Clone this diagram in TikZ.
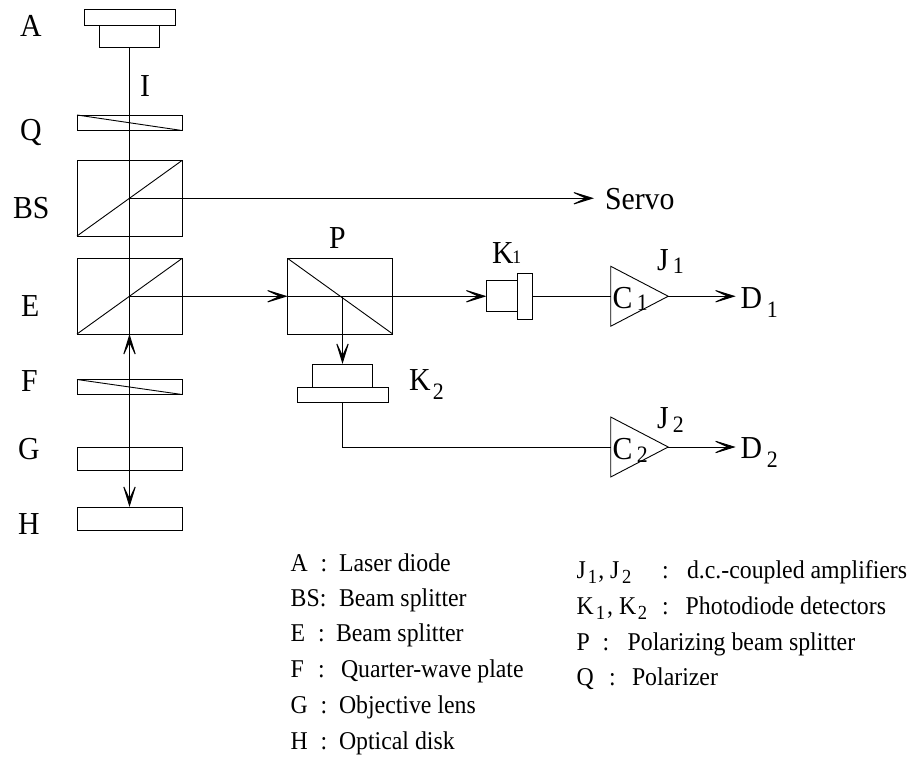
\documentclass[tikz,border=0pt]{standalone}
\usepackage{fontspec}
\setmainfont[FakeStretch=0.93]{Liberation Serif}
\usetikzlibrary{arrows.meta,shapes.geometric}
\newcommand{\lowsub}[4][23.5]{\kern#2pt\raisebox{-#3pt}{\fontsize{#1}{#1}\selectfont #4}}
\tikzset{
    optbox/.style={draw,inner sep=0pt,outer sep=0pt},
    plate/.style={optbox,minimum width=105pt,minimum height=15.5pt},
    slab/.style={optbox,minimum width=105pt,minimum height=23pt},
    cube/.style={optbox,minimum width=105pt,minimum height=75.5pt},
    widecap/.style={optbox,minimum width=91pt,minimum height=15.5pt},
    narrowcap/.style={optbox,minimum width=60.5pt,minimum height=22.5pt},
    amp/.style={draw,isosceles triangle,isosceles triangle stretches,inner sep=0pt,outer sep=0pt,
        minimum width=60pt,minimum height=57.5pt,anchor=lower side},
    lab/.style={inner sep=0pt,outer sep=0pt,anchor=base west,font=\fontsize{32}{38}\selectfont},
    legtxt/.style={inner sep=0pt,outer sep=0pt,anchor=base west,font=\fontsize{25.6}{30}\selectfont},
    ray/.style={-{Stealth[length=26pt,width=16pt,inset=17pt]}}
}
\begin{document}
\begin{tikzpicture}[x=1pt,y=-1pt,line width=0.9pt]
    \useasboundingbox (0,0) rectangle (911,758);
    % column of optics
    \node[widecap] (ldtop) at (129.5,17.25) {};
    \node[narrowcap] (ldbot) at (129.5,36.25) {};
    \node[plate] (polq) at (129.5,122.75) {};
    \node[cube] (bs) at (129.5,198.25) {};
    \node[cube] (bse) at (129.5,296.25) {};
    \node[plate,minimum height=15pt] (qwf) at (129.5,387) {};
    \node[slab] (lensg) at (129.5,458.5) {};
    \node[slab] (diskh) at (129.5,518.5) {};
    \draw (polq.north west) -- (polq.south east);
    \draw (qwf.north west) -- (qwf.south east);
    \draw (bs.south west) -- (bs.north east);
    \draw (bse.south west) -- (bse.north east);
    % polarizing splitter and detectors
    \node[cube] (pbs) at (340.25,296.25) {};
    \draw (pbs.north west) -- (pbs.south east);
    \coordinate (psplit) at (342.5,296.25);
    \node[narrowcap,minimum width=60pt,minimum height=23pt] (ktwotop) at (342.5,375.5) {};
    \node[widecap,minimum height=15pt] (ktwobot) at (342.5,394.5) {};
    \node[optbox,minimum width=30.5pt,minimum height=31pt] (konebody) at (501.75,296.25) {};
    \node[optbox,minimum width=15pt,minimum height=45.5pt] (konecap) at (524.5,296.25) {};
    % amplifiers
    \node[amp] (ampone) at (610.7,296.25) {};
    \node[amp] (amptwo) at (610.7,447) {};
    % text
    \node[lab] (ta) at (20,36) {A};
    \node[lab] (ti) at (140,96) {I};
    \node[lab] (tq) at (20,140) {Q};
    \node[lab] (tbs) at (13,218) {BS};
    \node[lab] (te) at (21,316) {E};
    \node[lab] (tf) at (21,391) {F};
    \node[lab] (tg) at (18,459) {G};
    \node[lab] (th) at (18,534) {H};
    \node[lab] (tp) at (329,248) {P};
    \node[lab] (tservo) at (605,209) {Servo};
    \node[lab] (tkone) at (492,263) {K\lowsub[19]{-1}{0}{1}};
    \node[lab] (tktwo) at (409,390) {K\lowsub{2.3}{9}{2}};
    \node[lab] (tjone) at (657,270) {J\lowsub{4.3}{3}{1}};
    \node[lab] (tjtwo) at (657,428) {J\lowsub{4.3}{4}{2}};
    \node[lab] (tcone) at (612.7,308) {C\lowsub{4.3}{2}{1}};
    \node[lab] (tctwo) at (612.7,459) {C\lowsub{4.3}{3}{2}};
    \node[lab] (tdone) at (740.7,308) {D\lowsub{4.6}{9}{1}};
    \node[lab] (tdtwo) at (740.7,458) {D\lowsub{4.6}{9}{2}};
    % beams
    \draw[ray] (ldbot.south) -- (diskh.north);
    \draw[ray] (qwf.north) -- (bse.south);
    \draw[ray,shorten >=11pt] (bs.center) -- (bs.center -| tservo.west);
    \draw[ray] (bse.center) -- (pbs.west);
    \draw[ray] (pbs.west) -- (konebody.west);
    \draw[ray] (psplit) -- (ktwotop.north);
    \draw (konecap.east) -- (ampone.lower side);
    \draw (ktwobot.south) -- (ktwobot.south |- amptwo.lower side) -- (amptwo.lower side);
    \draw[ray,shorten >=5pt] (ampone.apex) -- (ampone.apex -| tdone.west);
    \draw[ray,shorten >=5pt] (amptwo.apex) -- (amptwo.apex -| tdtwo.west);
    % legend
    \foreach \id/\key/\cx/\dx/\yy/\what in {
        a/A/320.7/339/571/Laser diode,
        b/BS:/0/339/606/Beam splitter,
        e/E/318/336/641.7/Beam splitter,
        f/F/318/341/677.7/Quarter-wave plate,
        g/G/320.7/339/713/Objective lens,
        h/H/320.7/339/749/Optical disk}{
        \node[legtxt] (key\id) at (290.7,\yy) {\key};
        \ifdim\cx pt>0pt \node[legtxt] (col\id) at (\cx,\yy) {:};\fi
        \node[legtxt] (txt\id) at (\dx,\yy) {\what};
    }
    \foreach \id/\key/\cx/\dx/\yy/\what in {
        j/{J\lowsub[20]{2}{5}{1}\kern1pt, J\lowsub[20]{2.7}{5}{2}}/662/687/578/d.c.-coupled amplifiers,
        k/{K\lowsub[20]{2}{5}{1}\kern2pt, K\lowsub[20]{1.7}{5}{2}}/662/685.7/614/Photodiode detectors,
        p/P/602.7/627.7/650/Polarizing beam splitter,
        q/Q/609/632/685/Polarizer}{
        \node[legtxt] (key\id) at (576.7,\yy) {\key};
        \node[legtxt] (col\id) at (\cx,\yy) {:};
        \node[legtxt] (txt\id) at (\dx,\yy) {\what};
    }
\end{tikzpicture}
\end{document}
